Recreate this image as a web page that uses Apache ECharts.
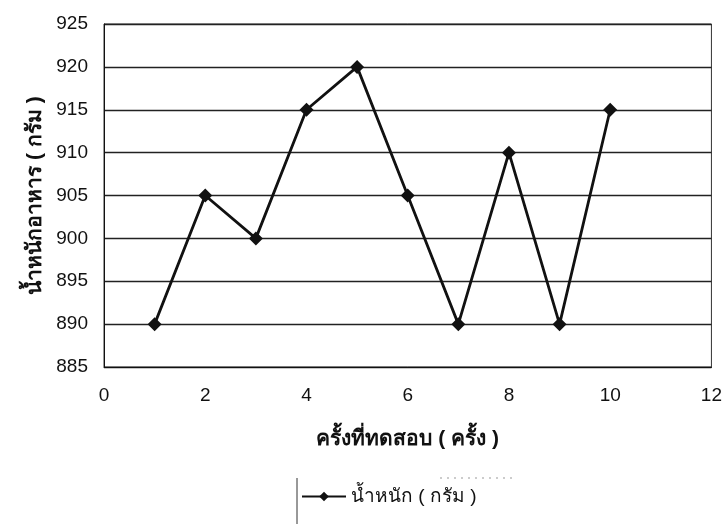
<!DOCTYPE html>
<html><head><meta charset="utf-8">
<script src="https://cdn.jsdelivr.net/npm/echarts@6/dist/echarts.min.js"></script>
<style>html,body{margin:0;padding:0;background:#fff}#c{width:725px;height:524px}</style>
</head><body><div id="c"></div>
<script>
const trials = [1, 2, 3, 4, 5, 6, 7, 8, 9, 10];
const weights = [890, 905, 900, 915, 920, 905, 890, 910, 890, 915];
const seriesName = 'น้ำหนัก ( กรัม )';
const xTitle = 'ครั้งที่ทดสอบ ( ครั้ง )';
const yTitle = 'น้ำหนักอาหาร ( กรัม )';

const chart = echarts.init(document.getElementById('c'), null, {renderer: 'canvas'});
chart.setOption({
  animation: false,
  backgroundColor: '#fff',
  grid: {left: 104, right: 13, top: 24, bottom: 157, show: true, borderColor: '#333', borderWidth: 1},
  graphic: [
    {type: 'line', shape: {x1: 297, y1: 478, x2: 297, y2: 524}, style: {stroke: '#333', lineWidth: 1}},
    {type: 'line', shape: {x1: 440, y1: 478, x2: 515, y2: 478}, style: {stroke: '#999', lineWidth: 1, lineDash: [2, 5]}}
  ],
  legend: {
    data: [seriesName],
    left: 296, top: 482,
    itemWidth: 44, itemHeight: 12, itemGap: 4,
    textStyle: {fontFamily: 'Liberation Sans, sans-serif', fontSize: 19, color: '#111'}
  },
  xAxis: {
    type: 'value', min: 0, max: 12, interval: 2,
    name: xTitle, nameLocation: 'middle', nameGap: 62,
    nameTextStyle: {fontFamily: 'Liberation Sans, sans-serif', fontSize: 21, fontWeight: 'bold', color: '#111'},
    axisLine: {show: true, lineStyle: {color: '#111', width: 1}},
    axisTick: {show: false},
    splitLine: {show: false},
    axisLabel: {fontFamily: 'Liberation Sans, Arial, sans-serif', fontSize: 19, color: '#111', margin: 19}
  },
  yAxis: {
    type: 'value', min: 885, max: 925, interval: 5,
    name: yTitle, nameLocation: 'middle', nameGap: 58, nameRotate: 90,
    nameTextStyle: {fontFamily: 'Liberation Sans, sans-serif', fontSize: 21, fontWeight: 'bold', color: '#111'},
    axisLine: {show: true, lineStyle: {color: '#111', width: 1}},
    axisTick: {show: false},
    splitLine: {show: true, lineStyle: {color: '#222', width: 1.3}},
    axisLabel: {fontFamily: 'Liberation Sans, Arial, sans-serif', fontSize: 19, color: '#111', margin: 16}
  },
  series: [{
    name: seriesName,
    type: 'line',
    data: trials.map((t, i) => [t, weights[i]]),
    symbol: 'diamond', symbolSize: 14,
    lineStyle: {color: '#111', width: 2.8},
    itemStyle: {color: '#111'}
  }]
});
</script></body></html>
